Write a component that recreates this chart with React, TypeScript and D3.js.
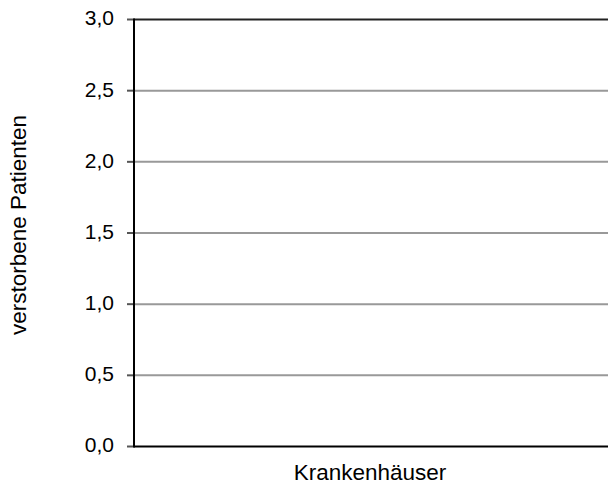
import React from "react";
import * as d3 from "d3";

const yTicks = [0, 0.5, 1.0, 1.5, 2.0, 2.5, 3.0];
const categories: string[] = [];
const values: number[] = [];
const xTitle = "Krankenhäuser";
const yTitle = "verstorbene Patienten";

export default function App() {
  const W = 608, H = 485;
  const left = 134, right = 608, top = 19.5, bottom = 446.5;
  const y = d3.scaleLinear().domain([0, 3]).range([bottom, top]);
  const x = d3.scaleBand<string>().domain(categories).range([left, right]);
  const fmt = (v: number) => d3.format(".1f")(v).replace(".", ",");
  const font = "'Liberation Sans', Arial, sans-serif";
  return (
    <svg width={W} height={H} style={{ position: "absolute", left: 0, top: 0, background: "#fff" }}>
      {yTicks.map((t) => (
        <g key={t}>
          {t > 0 && t < 3 && (
            <line x1={left} x2={right} y1={y(t)} y2={y(t)} stroke="#999" strokeWidth={2} />
          )}
          <line x1={left - 7} x2={left} y1={y(t)} y2={y(t)} stroke="#555" strokeWidth={2} />
          <text x={114} y={y(t)} dy="0.28em" textAnchor="end" fontFamily={font} fontSize={21} fill="#000">
            {fmt(t)}
          </text>
        </g>
      ))}
      {values.map((v, i) => (
        <rect key={i} x={x(categories[i])} width={x.bandwidth()} y={y(v)} height={bottom - y(v)} fill="#4472c4" />
      ))}
      <line x1={left} x2={right} y1={top} y2={top} stroke="#222" strokeWidth={2} />
      <line x1={left} x2={right} y1={bottom} y2={bottom} stroke="#000" strokeWidth={2} />
      <line x1={left} x2={left} y1={top - 1} y2={bottom + 1} stroke="#000" strokeWidth={2} />
      <text x={370} y={480} textAnchor="middle" fontFamily={font} fontSize={22.5} fill="#000">
        {xTitle}
      </text>
      <text transform={`translate(26,225) rotate(-90)`} textAnchor="middle" fontFamily={font} fontSize={22.5} fill="#000">
        {yTitle}
      </text>
    </svg>
  );
}
